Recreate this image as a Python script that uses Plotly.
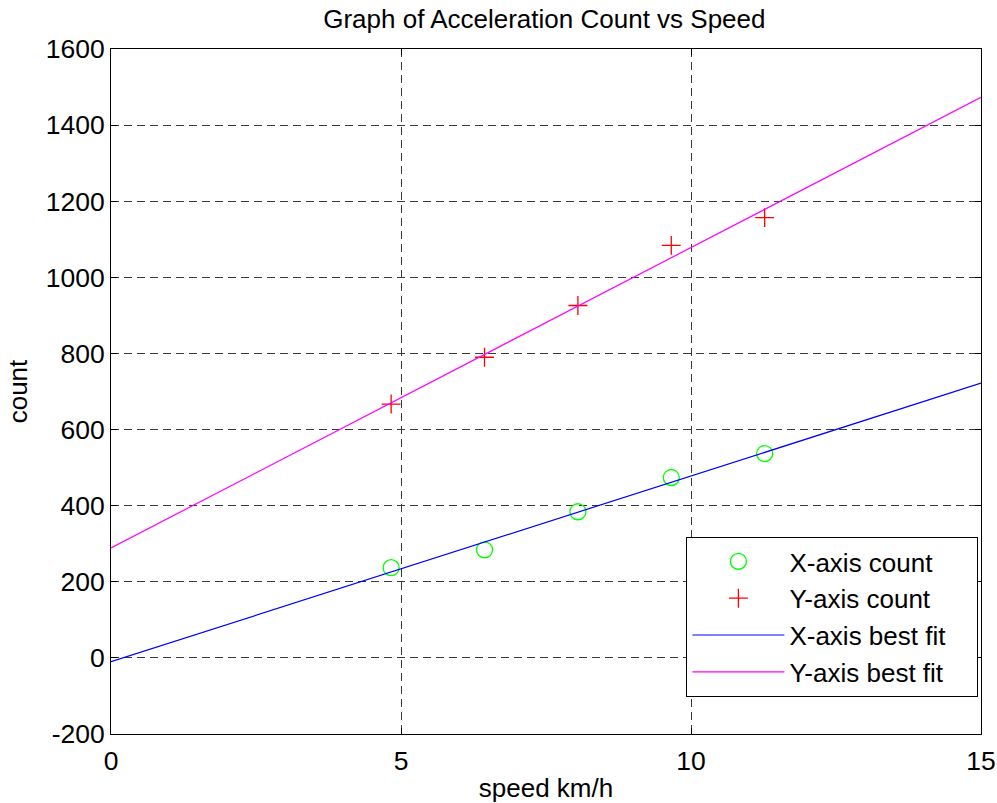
import plotly.graph_objects as go

speed = [4.83, 6.44, 8.05, 9.66, 11.27]
x_count = [237, 284, 384, 474, 537]
y_count = [667, 790, 926, 1084, 1157]

fit_speed = [0, 15]
x_fit = [-10, 722]
y_fit = [289, 1473]

x_ticks = [0, 5, 10, 15]
y_ticks = [-200, 0, 200, 400, 600, 800, 1000, 1200, 1400, 1600]
y_tick_labels = ["-200", "0", "200", "400", "600", "800", "1000", "1200", "1400", "1600"]

names = ["X-axis count", "Y-axis count", "X-axis best fit", "Y-axis best fit\u00a0\u00a0\u00a0\u00a0"]

FONT = "Liberation Sans, Arial, sans-serif"

fig = go.Figure()
fig.add_trace(go.Scatter(x=speed, y=x_count, mode="markers", name=names[0],
                         marker=dict(symbol="circle-open", size=16, color="#00ff00",
                                     line=dict(width=1.3, color="#00ff00"))))
fig.add_trace(go.Scatter(x=speed, y=y_count, mode="markers", name=names[1],
                         marker=dict(symbol="cross-thin-open", size=13.5, color="#ff0000",
                                     line=dict(width=1.3, color="#ff0000"))))
fig.add_trace(go.Scatter(x=fit_speed, y=x_fit, mode="lines", name=names[2],
                         line=dict(color="#0000ff", width=1.2)))
fig.add_trace(go.Scatter(x=fit_speed, y=y_fit, mode="lines", name=names[3],
                         line=dict(color="#ff00ff", width=1.2)))

axis_common = dict(
    showline=True, linecolor="black", linewidth=1, mirror="ticks",
    ticks="inside", ticklen=6, tickcolor="black",
    showgrid=True, gridcolor="#3a3a3a", griddash="8px,5px", gridwidth=1,
    zeroline=False, automargin=False,
    tickfont=dict(family=FONT, size=26.5, color="black"),
)

fig.update_layout(
    width=997, height=803,
    margin=dict(l=111, r=16, t=49, b=69),
    paper_bgcolor="white", plot_bgcolor="white",
    title=dict(text="Graph of Acceleration Count vs Speed", x=0.546, xanchor="center",
               y=0.977, yanchor="middle",
               font=dict(family=FONT, size=26, color="black")),
    xaxis=dict(range=[0, 15], tickvals=x_ticks, ticklabelstandoff=3,
               title=dict(text="speed km/h", font=dict(family=FONT, size=26, color="black"),
                          standoff=8),
               **axis_common),
    yaxis=dict(range=[-200, 1600], tickvals=y_ticks, ticktext=y_tick_labels,
               title=dict(text="count", font=dict(family=FONT, size=26, color="black"),
                          standoff=10),
               **axis_common),
    legend=dict(x=0.997, y=0.054, xanchor="right", yanchor="bottom",
                bgcolor="white", bordercolor="black", borderwidth=1,
                font=dict(family=FONT, size=26, color="black"),
                itemwidth=92, tracegroupgap=0),
    showlegend=True,
)

fig.write_html("out.html")
